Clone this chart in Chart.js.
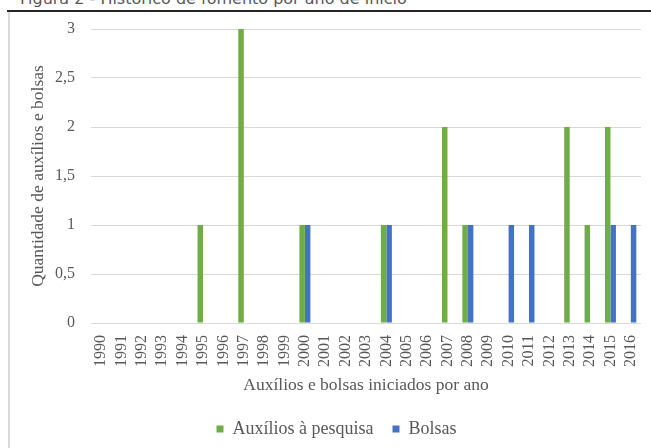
<!DOCTYPE html>
<html lang="pt">
<head>
<meta charset="utf-8">
<script src="https://cdn.jsdelivr.net/npm/chart.js@4.4.1/dist/chart.umd.min.js"></script>
<style>
  html, body { margin: 0; padding: 0; background: #fff; }
  body { width: 651px; height: 448px; position: relative; overflow: hidden; }
  #fig-title {
    position: absolute; left: 20px; top: -9px;
    font-family: "DejaVu Sans", sans-serif; font-size: 16px; line-height: 16px;
    color: #595959; white-space: nowrap;
  }
  #rule { position: absolute; left: 7px; right: 0; top: 10px; height: 2px; background: #262626; }
  #box {
    position: absolute; left: 8px; top: 12px; width: 641px; height: 436px;
    border-left: 2px solid #d9d9d9;
  }
  #box canvas { display: block; }
</style>
</head>
<body>
<div id="fig-title">Figura 2 - Histórico de fomento por ano de início</div>
<div id="rule"></div>
<div id="box"><canvas id="chart" width="641" height="436"></canvas></div>
<script>
// Start years of the funding records
const years = ['1990','1991','1992','1993','1994','1995','1996','1997','1998','1999',
               '2000','2001','2002','2003','2004','2005','2006','2007','2008','2009',
               '2010','2011','2012','2013','2014','2015','2016'];

// Research grants started per year
const auxilios = [0,0,0,0,0,1,0,3,0,0,
                  1,0,0,0,1,0,0,2,1,0,
                  0,0,0,2,1,2,0];

// Scholarships started per year
const bolsas = [0,0,0,0,0,0,0,0,0,0,
                1,0,0,0,1,0,0,0,1,0,
                1,1,0,0,0,1,1];

// Value axis labels (decimal comma)
const yTickLabels = ['0','0,5','1','1,5','2','2,5','3'];

const textColor = '#595959';
const serif = '"Liberation Serif", "Times New Roman", serif';

// Keep the plot area exactly where the layout padding puts it
function clearEdgePadding(scale) {
  scale.paddingLeft = 0;
  scale.paddingRight = 0;
  scale.paddingTop = 0;
  scale.paddingBottom = 0;
}

// Nudge the legend row a little to the right of the canvas centre
const legendShift = {
  id: 'legendShift',
  afterLayout(chart) {
    const lg = chart.legend;
    if (lg) { lg.left += 11; lg.right += 11; }
  }
};

new Chart(document.getElementById('chart'), {
  type: 'bar',
  data: {
    labels: years,
    datasets: [
      { label: 'Auxílios à pesquisa', data: auxilios, backgroundColor: '#70AD47', borderWidth: 0 },
      { label: 'Bolsas', data: bolsas, backgroundColor: '#4472C4', borderWidth: 0 }
    ]
  },
  plugins: [legendShift],
  options: {
    responsive: false,
    animation: false,
    datasets: { bar: { categoryPercentage: 0.54, barPercentage: 1.0 } },
    layout: { padding: { top: 17, right: 10, bottom: 0, left: 0 } },
    plugins: {
      legend: {
        position: 'bottom',
        labels: {
          boxWidth: 7, boxHeight: 7, padding: 19,
          color: textColor, font: { family: serif, size: 18 }
        }
      },
      tooltip: { enabled: false }
    },
    scales: {
      x: {
        grid: { display: false, drawTicks: false },
        border: { display: false },
        ticks: {
          color: textColor, font: { family: serif, size: 16 },
          minRotation: 90, maxRotation: 90, autoSkip: false, padding: 12
        },
        title: {
          display: true, text: 'Auxílios e bolsas iniciados por ano',
          color: textColor, font: { family: serif, size: 17.5 },
          padding: { top: 0, bottom: 5.5 }
        },
        afterFit: (scale) => { scale.height = 78; clearEdgePadding(scale); }
      },
      y: {
        min: 0, max: 3,
        grid: { color: '#d9d9d9', lineWidth: 1, drawTicks: false },
        border: { display: false },
        ticks: {
          stepSize: 0.5, padding: 16,
          color: textColor, font: { family: serif, size: 16 },
          callback: (value, index) => yTickLabels[index]
        },
        title: {
          display: true, text: 'Quantidade de auxílios e bolsas',
          color: textColor, font: { family: serif, size: 17.5 },
          padding: { top: 17.5, bottom: 0 }
        },
        afterFit: (scale) => { scale.width = 81; clearEdgePadding(scale); }
      }
    }
  }
});
</script>
</body>
</html>
